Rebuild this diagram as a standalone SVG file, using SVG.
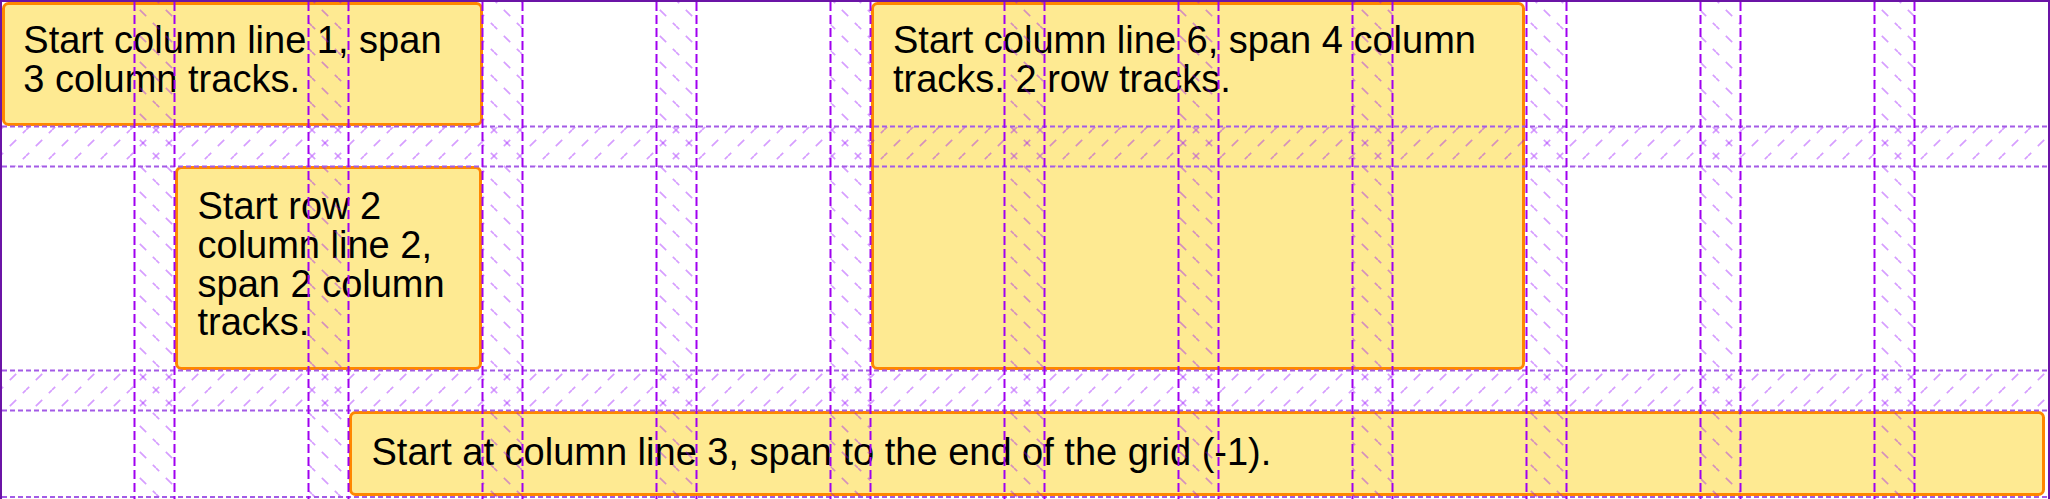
<svg xmlns="http://www.w3.org/2000/svg" width="2050" height="499" viewBox="0 0 2050 499">
<style>
.box{fill:#feea92;stroke:#ff8600;stroke-width:3}
.lbl{font-family:"Liberation Sans",Arial,Helvetica,sans-serif;font-size:38px;fill:#000}
.col{fill:none;stroke:#a000f0;stroke-width:2;stroke-dasharray:9 4}
.row{fill:none;stroke:#a35be6;stroke-width:2;stroke-dasharray:5 3}
.hatch{fill:none;stroke:#9400ff;stroke-opacity:0.38;stroke-width:1.7;stroke-dasharray:9 9.38;stroke-dashoffset:4.5}
</style>
<defs>
<pattern id="hBack" patternUnits="userSpaceOnUse" width="26" height="26">
<path class="hatch" d="M0 0L26 26M26 0L52 26M0 26L26 52"/>
</pattern>
<pattern id="hFwd" patternUnits="userSpaceOnUse" width="26" height="26">
<path class="hatch" d="M26 0L0 26M0 0L-26 26M26 26L52 0"/>
</pattern>
</defs>
<rect x="0" y="0" width="2050" height="499" fill="#ffffff"/>
<g id="box1">
<rect class="box" x="3.5" y="3.5" width="478" height="121" rx="5"/>
<text class="lbl"><tspan x="23.3" y="53.3">Start column line 1, span</tspan><tspan x="23.3" y="91.7">3 column tracks.</tspan></text>
</g>
<g id="box2">
<rect class="box" x="176.5" y="167.5" width="304" height="201" rx="5"/>
<text class="lbl"><tspan x="197.5" y="219.3">Start row 2</tspan><tspan x="197.5" y="258">column line 2,</tspan><tspan x="197.5" y="296.6">span 2 column</tspan><tspan x="197.5" y="335">tracks.</tspan></text>
</g>
<g id="box3">
<rect class="box" x="872.5" y="3.5" width="651" height="365" rx="5"/>
<text class="lbl"><tspan x="893" y="53.3">Start column line 6, span 4 column</tspan><tspan x="893" y="91.7">tracks. 2 row tracks.</tspan></text>
</g>
<g id="box4">
<rect class="box" x="350.5" y="412.5" width="1693" height="82" rx="5"/>
<text class="lbl" x="371.5" y="465">Start at column line 3, span to the end of the grid (-1).</text>
</g>
<g id="grid-overlay">
<g fill="url(#hBack)">
<rect x="134.5" y="2" width="40" height="497"/>
<rect x="308.5" y="2" width="40" height="497"/>
<rect x="482.5" y="2" width="40" height="497"/>
<rect x="656.5" y="2" width="40" height="497"/>
<rect x="830.5" y="2" width="40" height="497"/>
<rect x="1004.5" y="2" width="40" height="497"/>
<rect x="1178.5" y="2" width="40" height="497"/>
<rect x="1352.5" y="2" width="40" height="497"/>
<rect x="1526.5" y="2" width="40" height="497"/>
<rect x="1700.5" y="2" width="40" height="497"/>
<rect x="1874.5" y="2" width="40" height="497"/>
</g>
<g fill="url(#hFwd)">
<rect x="2" y="126.5" width="2046" height="40"/>
<rect x="2" y="370.5" width="2046" height="40"/>
</g>
<path class="row" d="M2 126.5H2048M2 166.5H2048M2 370.5H2048M2 410.5H2048M2 497H2048"/>
<path class="col" d="M134.5 2V499M174.5 2V499M308.5 2V499M348.5 2V499M482.5 2V499M522.5 2V499M656.5 2V499M696.5 2V499M830.5 2V499M870.5 2V499M1004.5 2V499M1044.5 2V499M1178.5 2V499M1218.5 2V499M1352.5 2V499M1392.5 2V499M1526.5 2V499M1566.5 2V499M1700.5 2V499M1740.5 2V499M1874.5 2V499M1914.5 2V499"/>
<path d="M1 499V1H2049V499" fill="none" stroke="#6b14a6" stroke-width="2"/>
</g>
</svg>
